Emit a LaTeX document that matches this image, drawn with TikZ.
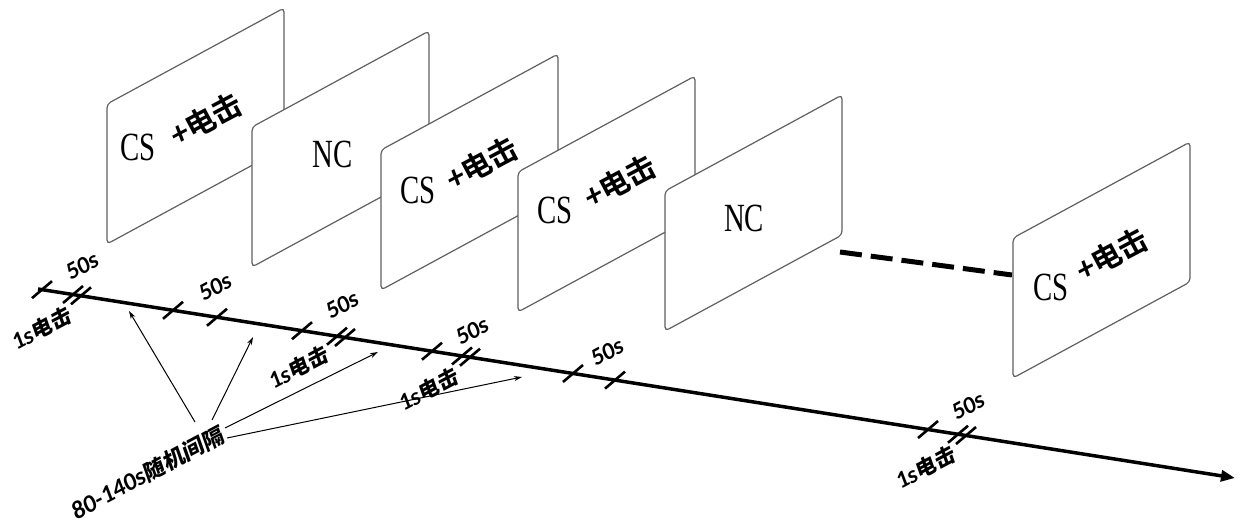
\documentclass[tikz,border=0pt]{standalone}
\usepackage{fontspec}
\setmainfont{Liberation Serif}
\newfontfamily\latsf{Carlito}
\newfontfamily\cjkb{Noto Sans CJK SC Bold}
\newfontfamily\cjkbi{Noto Sans CJK SC Bold}[FakeSlant=0.15]
\usetikzlibrary{arrows.meta}

\begin{document}
\begin{tikzpicture}[x=1pt,y=-1pt,
  card/.style={draw=gray!75!black,line width=1.2pt,fill=white,rounded corners=4pt},
  cs/.style={font=\fontsize{40}{40}\selectfont,inner sep=0pt},
  shock/.style={font=\cjkb\fontsize{30}{30}\selectfont,rotate=28,inner sep=0pt},
  lab/.style={font=\latsf\bfseries\itshape\fontsize{24}{24}\selectfont,rotate=28,inner sep=0pt},
  tick/.style={line width=2.6pt},
  ptr/.style={line width=1pt,-{Stealth[length=8pt,width=5pt]}}]
  \useasboundingbox (0,0) rectangle (1240,530);
  % cards
  \draw[card] (107,104) -- ++(0,140) -- ++(177,-96) -- ++(0,-140) -- cycle;
  \node[cs] (cs1) at (138,147) {\scalebox{0.72}[1]{CS}};
  \node[shock] (sh1) at (206,119) {{\latsf\bfseries\itshape\fontsize{34}{34}\selectfont +}电击};
  \draw[card] (252,127) -- ++(0,140) -- ++(177,-96) -- ++(0,-140) -- cycle;
  \node[cs] (nc1) at (333,154) {\scalebox{0.72}[1]{NC}};
  \draw[card] (381,150) -- ++(0,140) -- ++(177,-96) -- ++(0,-140) -- cycle;
  \node[cs] (cs2) at (418,190) {\scalebox{0.72}[1]{CS}};
  \node[shock] (sh2) at (482,163) {{\latsf\bfseries\itshape\fontsize{34}{34}\selectfont +}电击};
  \draw[card] (518,172) -- ++(0,140) -- ++(177,-96) -- ++(0,-140) -- cycle;
  \node[cs] (cs3) at (555,210) {\scalebox{0.72}[1]{CS}};
  \node[shock] (sh3) at (620,181) {{\latsf\bfseries\itshape\fontsize{34}{34}\selectfont +}电击};
  \draw[card] (665,191) -- ++(0,140) -- ++(177,-96) -- ++(0,-140) -- cycle;
  \node[cs] (nc2) at (744,218) {\scalebox{0.72}[1]{NC}};
  \coordinate (d0) at (840,252);
  \coordinate (d1) at (1012,275);
  \draw[line width=5pt,dash pattern=on 22pt off 9pt] (d0) -- (d1);
  \draw[card] (1013,238) -- ++(0,140) -- ++(177,-96) -- ++(0,-140) -- cycle;
  \node[cs] (cs4) at (1051,287) {\scalebox{0.72}[1]{CS}};
  \node[shock] (sh4) at (1112,254) {{\latsf\bfseries\itshape\fontsize{34}{34}\selectfont +}电击};
  % time axis
  \coordinate (t0) at (38,289);
  \coordinate (t1) at (1235,478);
  \draw[line width=3.5pt,-{Triangle[length=14pt,width=11pt]}] (t0) -- (t1);
  \foreach \x in {42,173,217,302,432,573,615,928}
    \draw[tick] (\x,{289+0.1579*(\x-38)}) +(-10,8.5) -- +(10,-8.5);
  \foreach \x in {77,341,466,962}{
    \draw[tick] (\x-4,{289+0.1579*(\x-42)}) +(-10,8.5) -- +(10,-8.5);
    \draw[tick] (\x+4,{289+0.1579*(\x-34)}) +(-10,8.5) -- +(10,-8.5);
  }
  \node[lab] (f1) at (82,266) {50s};
  \node[lab] (f2) at (215,287) {50s};
  \node[lab] (f3) at (342,305) {50s};
  \node[lab] (f4) at (472,331) {50s};
  \node[lab] (f5) at (607,352) {50s};
  \node[lab] (f6) at (968,406) {50s};
  \node[lab] (e1) at (41,329) {1s{\cjkbi\fontsize{21}{21}\selectfont 电击}};
  \node[lab] (e2) at (298,368) {1s{\cjkbi\fontsize{21}{21}\selectfont 电击}};
  \node[lab] (e3) at (428,390) {1s{\cjkbi\fontsize{21}{21}\selectfont 电击}};
  \node[lab] (e4) at (925,468) {1s{\cjkbi\fontsize{21}{21}\selectfont 电击}};
  % random interval
  \node[lab,font=\latsf\bfseries\itshape\fontsize{25}{25}\selectfont] (gap) at (147,473) {80-140s{\cjkbi\fontsize{22}{22}\selectfont 随机间隔}};
  \coordinate (s1) at (195,422);
  \coordinate (s2) at (212,420);
  \coordinate (s3) at (225,428);
  \coordinate (s4) at (227,438);
  \coordinate (g1) at (129,311);
  \coordinate (g2) at (253,337);
  \coordinate (g3) at (378,352);
  \coordinate (g4) at (522,377);
  \foreach \i in {1,...,4} \draw[ptr] (s\i) -- (g\i);
\end{tikzpicture}
\end{document}
